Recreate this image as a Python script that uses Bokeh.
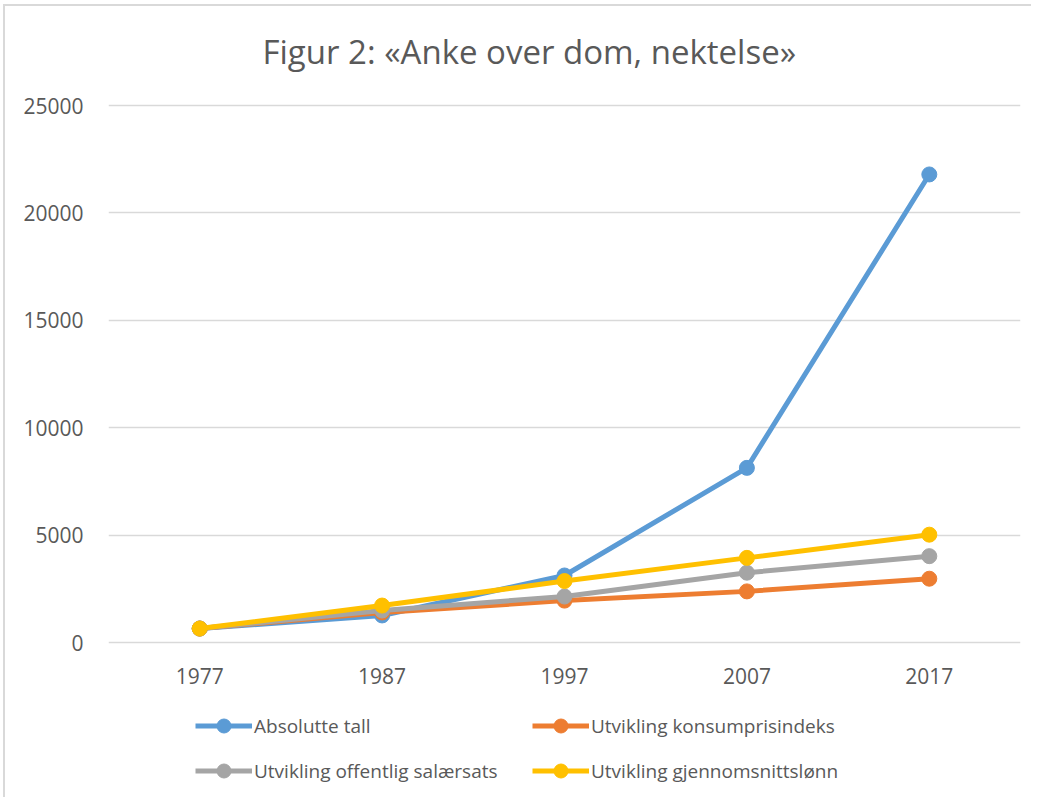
from bokeh.plotting import figure
from bokeh.models import Legend, LegendItem, ColumnDataSource, Range1d, FixedTicker, NumeralTickFormatter, Label
from bokeh.core.properties import value
from bokeh.embed import file_html
from bokeh.resources import INLINE

years = ["1977", "1987", "1997", "2007", "2017"]
absolutte = [650, 1260, 3120, 8130, 21790]
konsumpris = [650, 1400, 1950, 2380, 2970]
salaersats = [650, 1490, 2140, 3250, 4020]
gjennomsnitt = [650, 1720, 2860, 3940, 5020]
baseline = [0, 0, 0, 0, 0]

title_text = "Figur 2: «Anke over dom, nektelse»"
names = ["Absolutte tall", "Utvikling konsumprisindeks",
         "Utvikling offentlig salærsats", "Utvikling gjennomsnittslønn"]
colors = ["#5B9BD5", "#ED7D31", "#A5A5A5", "#FFC000"]
series = [absolutte, konsumpris, salaersats, gjennomsnitt]

FONT = "Open Sans"
TXT = "#595959"

# the frame covers the whole chart area so that title and legend sit inside it
Y_MAX = 25000
PX_DATA = 537          # pixels for 0..25000
PX_ABOVE = 99          # pixels above the 25000 line
PX_BELOW = 155         # pixels below the zero line
y_lo = -PX_BELOW * Y_MAX / PX_DATA
y_hi = Y_MAX + PX_ABOVE * Y_MAX / PX_DATA
FRAME_H = PX_DATA + PX_BELOW + PX_ABOVE

p = figure(x_range=years, y_range=Range1d(y_lo, y_hi),
           frame_width=912, frame_height=FRAME_H,
           output_backend="svg", toolbar_location=None,
           min_border_left=103, min_border_right=11, min_border_top=0, min_border_bottom=0)
p.styles = {"border-top": "2px solid #d9d9d9", "border-left": "2px solid #d9d9d9",
            "margin-left": "3px", "margin-top": "4px"}
p.outline_line_color = None
p.x_range.range_padding = 0

p.yaxis.ticker = FixedTicker(ticks=[0, 5000, 10000, 15000, 20000, 25000])
p.yaxis.formatter = NumeralTickFormatter(format="0")
p.yaxis.axis_line_color = None
p.yaxis.major_tick_line_color = None
p.yaxis.minor_tick_line_color = None
p.yaxis.major_label_text_font = FONT
p.yaxis.major_label_text_font_size = "21px"
p.yaxis.major_label_text_color = TXT
p.yaxis.major_label_standoff = 19

p.xaxis.visible = False
p.xgrid.grid_line_color = None
p.ygrid.grid_line_color = "#d9d9d9"
p.ygrid.grid_line_width = 1.5

# title (screen units, measured from the frame's bottom-left)
p.add_layout(Label(x=154, y=FRAME_H - 45, x_units="screen", y_units="screen",
                   text=title_text, text_font=FONT, text_font_size="33px",
                   text_color=TXT, text_align="left", text_baseline="alphabetic"))

# category labels under the zero line
lab_src = ColumnDataSource(dict(x=years, y=baseline, t=years))
p.text("x", "y", text="t", source=lab_src, text_font=value(FONT), text_font_size="21px",
       text_color=TXT, text_align="center", text_baseline="middle", y_offset=33)

items = []
for name, col, vals in zip(names, colors, series):
    src = ColumnDataSource(dict(x=years, y=vals))
    l = p.line("x", "y", source=src, line_color=col, line_width=5)
    s = p.scatter("x", "y", source=src, size=15, fill_color=col, line_color=col)
    items.append(LegendItem(label=name, renderers=[l, s]))

legend = Legend(items=items, orientation="horizontal", ncols=2,
                label_text_font=FONT, label_text_font_size="19px", label_text_color=TXT,
                glyph_width=57, glyph_height=35, label_standoff=2, spacing=10,
                label_width=268,
                border_line_color=None, background_fill_alpha=0,
                padding=0, margin=0, location=(87, 9))
p.add_layout(legend, "center")

open("out.html", "w").write(file_html(p, INLINE))
